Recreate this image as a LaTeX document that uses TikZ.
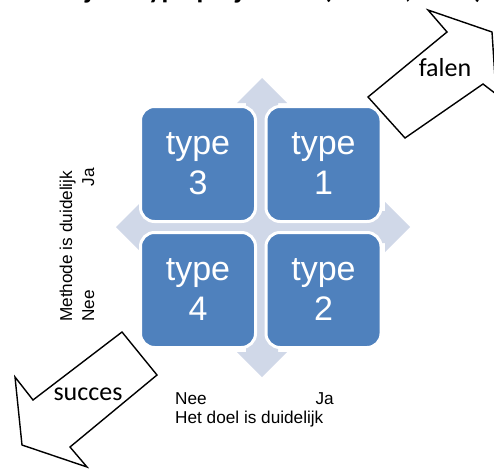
\documentclass[tikz,border=0pt]{standalone}
\usepackage{fontspec}
\setmainfont{Liberation Sans}
\newfontfamily\carlito{Carlito}
\definecolor{boxblue}{HTML}{4F81BD}
\definecolor{crossgray}{HTML}{D0D8E8}
\begin{document}
\begin{tikzpicture}[x=1pt,y=-1pt,
  quad/.style={draw=white,line width=3pt,fill=boxblue,rounded corners=14pt,
    minimum width=115pt,minimum height=115pt,inner sep=0pt,text=white,
    align=center,font=\fontsize{34}{40}\selectfont},
  blockarrow/.style={draw=black,line width=1.4pt,fill=white,line join=miter},
  arrowtext/.style={font=\carlito\fontsize{26}{30}\selectfont,inner sep=0pt},
  axislabel/.style={font=\fontsize{17.2}{20}\selectfont,inner sep=0pt},
  titletext/.style={font=\carlito\bfseries\fontsize{27.6}{32}\selectfont,inner sep=0pt,anchor=base west}]
\useasboundingbox (0,0) rectangle (494,468);
% cut-off title
\begin{scope}
\clip (0,0) rectangle (494,10);
\node[titletext] (title1) at (63,-1) {Bij elk type project};
\node[titletext] (title2) at (323,-1) {(Turner, 1993)};
\end{scope}
% background cross
\fill[crossgray] (262,78) -- (287,103) -- (278,103) -- (278,211) -- (385,211) -- (385,202)
  -- (410,227) -- (385,252) -- (385,243) -- (278,243) -- (278,352) -- (287,352)
  -- (262,377) -- (237,352) -- (246,352) -- (246,243) -- (141,243) -- (141,252)
  -- (116,227) -- (141,202) -- (141,211) -- (246,211) -- (246,103) -- (237,103) -- cycle;
% quadrants
\node[quad] (t3) at (198,164) {type\\3};
\node[quad] (t1) at (323.5,164) {type\\1};
\node[quad] (t4) at (198,290) {type\\4};
\node[quad] (t2) at (323.5,290) {type\\2};
% block arrows
\begin{scope}
\clip (0,0) rectangle (494,468);
\draw[blockarrow] (368,97) -- (447,32) -- (428,10) -- (492,32) -- (496,94) -- (483,84) -- (405,138) -- cycle;
\draw[blockarrow] (122,332) -- (33,400) -- (15,377) -- (22,445) -- (87,467) -- (70,447) -- (157,375) -- cycle;
\end{scope}
\node[arrowtext] (falen) at (445,68) {falen};
\node[arrowtext] (succes) at (88,394) {succes};
% axis labels
\node[axislabel,anchor=base west] (neeX) at (175,404) {Nee};
\node[axislabel,anchor=base east] (jaX) at (334,404) {Ja};
\node[axislabel,anchor=base west] (doel) at (175,423) {Het doel is duidelijk};
\node[axislabel,anchor=base west,rotate=90] (methode) at (72,322) {Methode is duidelijk};
\node[axislabel,anchor=base west,rotate=90] (neeY) at (94,322) {Nee};
\node[axislabel,anchor=base east,rotate=90] (jaY) at (94,168) {Ja};
\end{tikzpicture}
\end{document}
